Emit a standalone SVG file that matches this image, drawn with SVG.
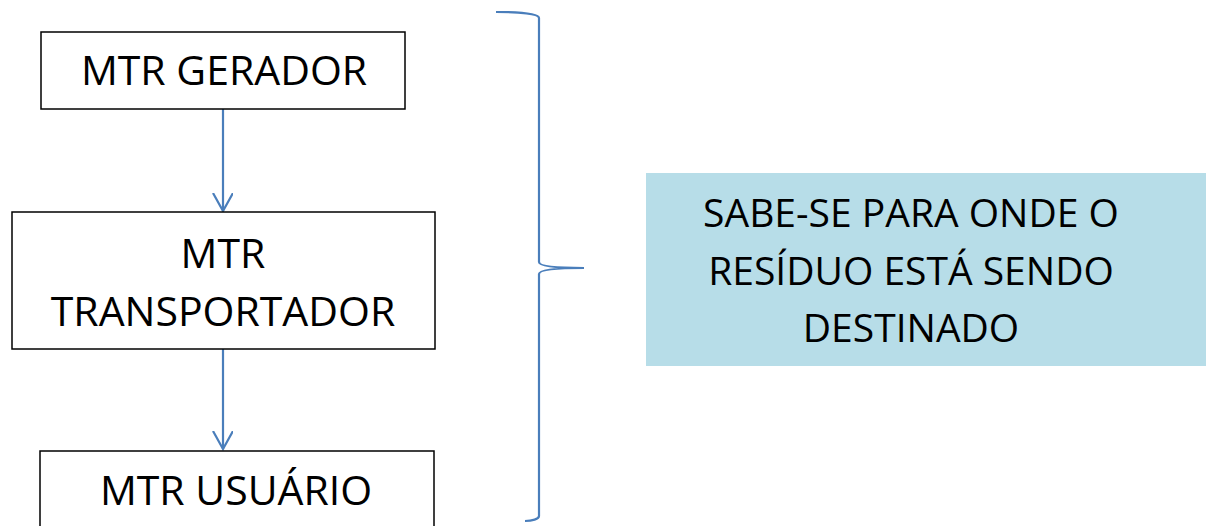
<svg xmlns="http://www.w3.org/2000/svg" width="1206" height="526" viewBox="0 0 1206 526">
<style>
.box{fill:#fff;stroke:#000;stroke-width:1.5}
.t{font-family:"Open Sans","Liberation Sans",sans-serif;font-size:41px;fill:#000;text-anchor:middle}
.r{font-size:39px}
.con{stroke:#4a7ebb;stroke-width:2.2;fill:none}
</style>
<defs>
<marker id="ah" markerWidth="22" markerHeight="22" refX="18" refY="10" orient="auto" markerUnits="userSpaceOnUse" viewBox="0 0 22 22">
<path d="M0,0 L18,10 L0,20" fill="none" stroke="#4a7ebb" stroke-width="2.2"/>
</marker>
</defs>
<rect width="1206" height="526" fill="#fff"/>
<g id="connectors">
<line class="con" x1="223" y1="109" x2="223" y2="211" marker-end="url(#ah)"/>
<line class="con" x1="223" y1="349" x2="223" y2="449" marker-end="url(#ah)"/>
<path id="brace" class="con" d="M496,12 C520,12 539,14 539,18 L539,262 C539,266 555,268 584,268 C555,268 539,270 539,274 L539,516 C539,519 532,521 525,521"/>
</g>
<g id="gerador">
<rect class="box" x="41" y="32" width="364" height="77"/>
<text class="t" x="224" y="85">MTR GERADOR</text>
</g>
<g id="transportador">
<rect class="box" x="12" y="212" width="423" height="137"/>
<text class="t" x="223" y="268">MTR</text>
<text class="t" x="223" y="326">TRANSPORTADOR</text>
</g>
<g id="usuario">
<rect class="box" x="40" y="451" width="394" height="90"/>
<text class="t" x="236" y="505">MTR USUÁRIO</text>
</g>
<g id="resultado">
<rect x="646" y="173" width="560" height="193" fill="#b7dde8"/>
<text class="t r" x="911" y="227">SABE-SE PARA ONDE O</text>
<text class="t r" x="911" y="285">RESÍDUO ESTÁ SENDO</text>
<text class="t r" x="911" y="342">DESTINADO</text>
</g>
</svg>
